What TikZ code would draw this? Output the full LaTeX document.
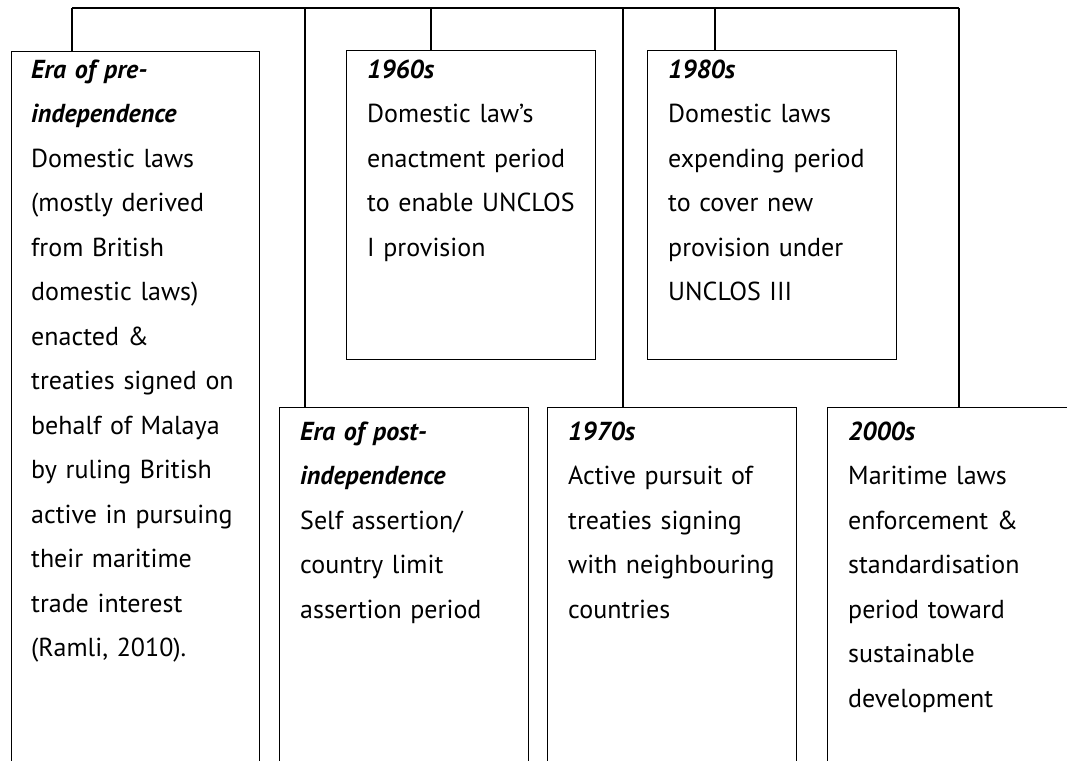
\documentclass[tikz,border=0pt]{standalone}
\usepackage{fontspec}
\setmainfont{PT Sans}
\newcommand{\firststrut}{\rule{0pt}{20pt}}
\begin{document}
\begin{tikzpicture}[x=1pt,y=-1pt,
  boxframe/.style={draw=black, line width=1.2pt, fill=none, inner sep=0pt, anchor=north west},
  boxtext/.style={anchor=north west, inner sep=0pt, align=left, text width=240pt,
    font=\fontsize{26}{44.5}\selectfont},
  tree/.style={draw=black, line width=1.2pt}]
\clip (0,0) rectangle (1067,760);
\fill[white] (0,0) rectangle (1067,760);
% boxes
\node[boxframe, minimum width=248.3pt, minimum height=760pt] (b1) at (10.7,51) {};
\node[boxframe, minimum width=249pt, minimum height=309pt] (b2) at (346,50) {};
\node[boxframe, minimum width=249pt, minimum height=309pt] (b3) at (647,50) {};
\node[boxframe, minimum width=249pt, minimum height=400pt] (b4) at (279,407) {};
\node[boxframe, minimum width=249pt, minimum height=400pt] (b5) at (547,407) {};
\node[boxframe, minimum width=300pt, minimum height=400pt] (b6) at (827,407) {};
% texts
\node[boxtext] (t1) at (31,58) {\firststrut\textbf{\textit{Era of pre-}}\\\textbf{\textit{independence}}\\Domestic laws\\(mostly derived\\from British\\domestic laws)\\enacted \&\\treaties signed on\\behalf of Malaya\\by ruling British\\active in pursuing\\their maritime\\trade interest\\(Ramli, 2010).};
\node[boxtext] (t2) at (367,58) {\firststrut\textbf{\textit{1960s}}\\Domestic law’s\\enactment period\\to enable UNCLOS\\I provision};
\node[boxtext] (t3) at (668,58) {\firststrut\textbf{\textit{1980s}}\\Domestic laws\\expending period\\to cover new\\provision under\\UNCLOS III};
\node[boxtext] (t4) at (300,420) {\firststrut\textbf{\textit{Era of post-}}\\\textbf{\textit{independence}}\\Self assertion/\\country limit\\assertion period};
\node[boxtext] (t5) at (568,420) {\firststrut\textbf{\textit{1970s}}\\Active pursuit of\\treaties signing\\with neighbouring\\countries};
\node[boxtext] (t6) at (848,420) {\firststrut\textbf{\textit{2000s}}\\Maritime laws\\enforcement \&\\standardisation\\period toward\\sustainable\\development};
% tree connectors
\coordinate (c1) at (72,8);
\coordinate (c2) at (305,8);
\coordinate (c3) at (431,8);
\coordinate (c4) at (623,8);
\coordinate (c5) at (715,8);
\coordinate (c6) at (959,8);
\draw[tree] (c1) -- (c6);
\draw[tree] (c1) -- (c1 |- b1.north);
\draw[tree] (c2) -- (c2 |- b4.north);
\draw[tree] (c3) -- (c3 |- b2.north);
\draw[tree] (c4) -- (c4 |- b5.north);
\draw[tree] (c5) -- (c5 |- b3.north);
\draw[tree] (c6) -- (c6 |- b6.north);
\end{tikzpicture}
\end{document}
